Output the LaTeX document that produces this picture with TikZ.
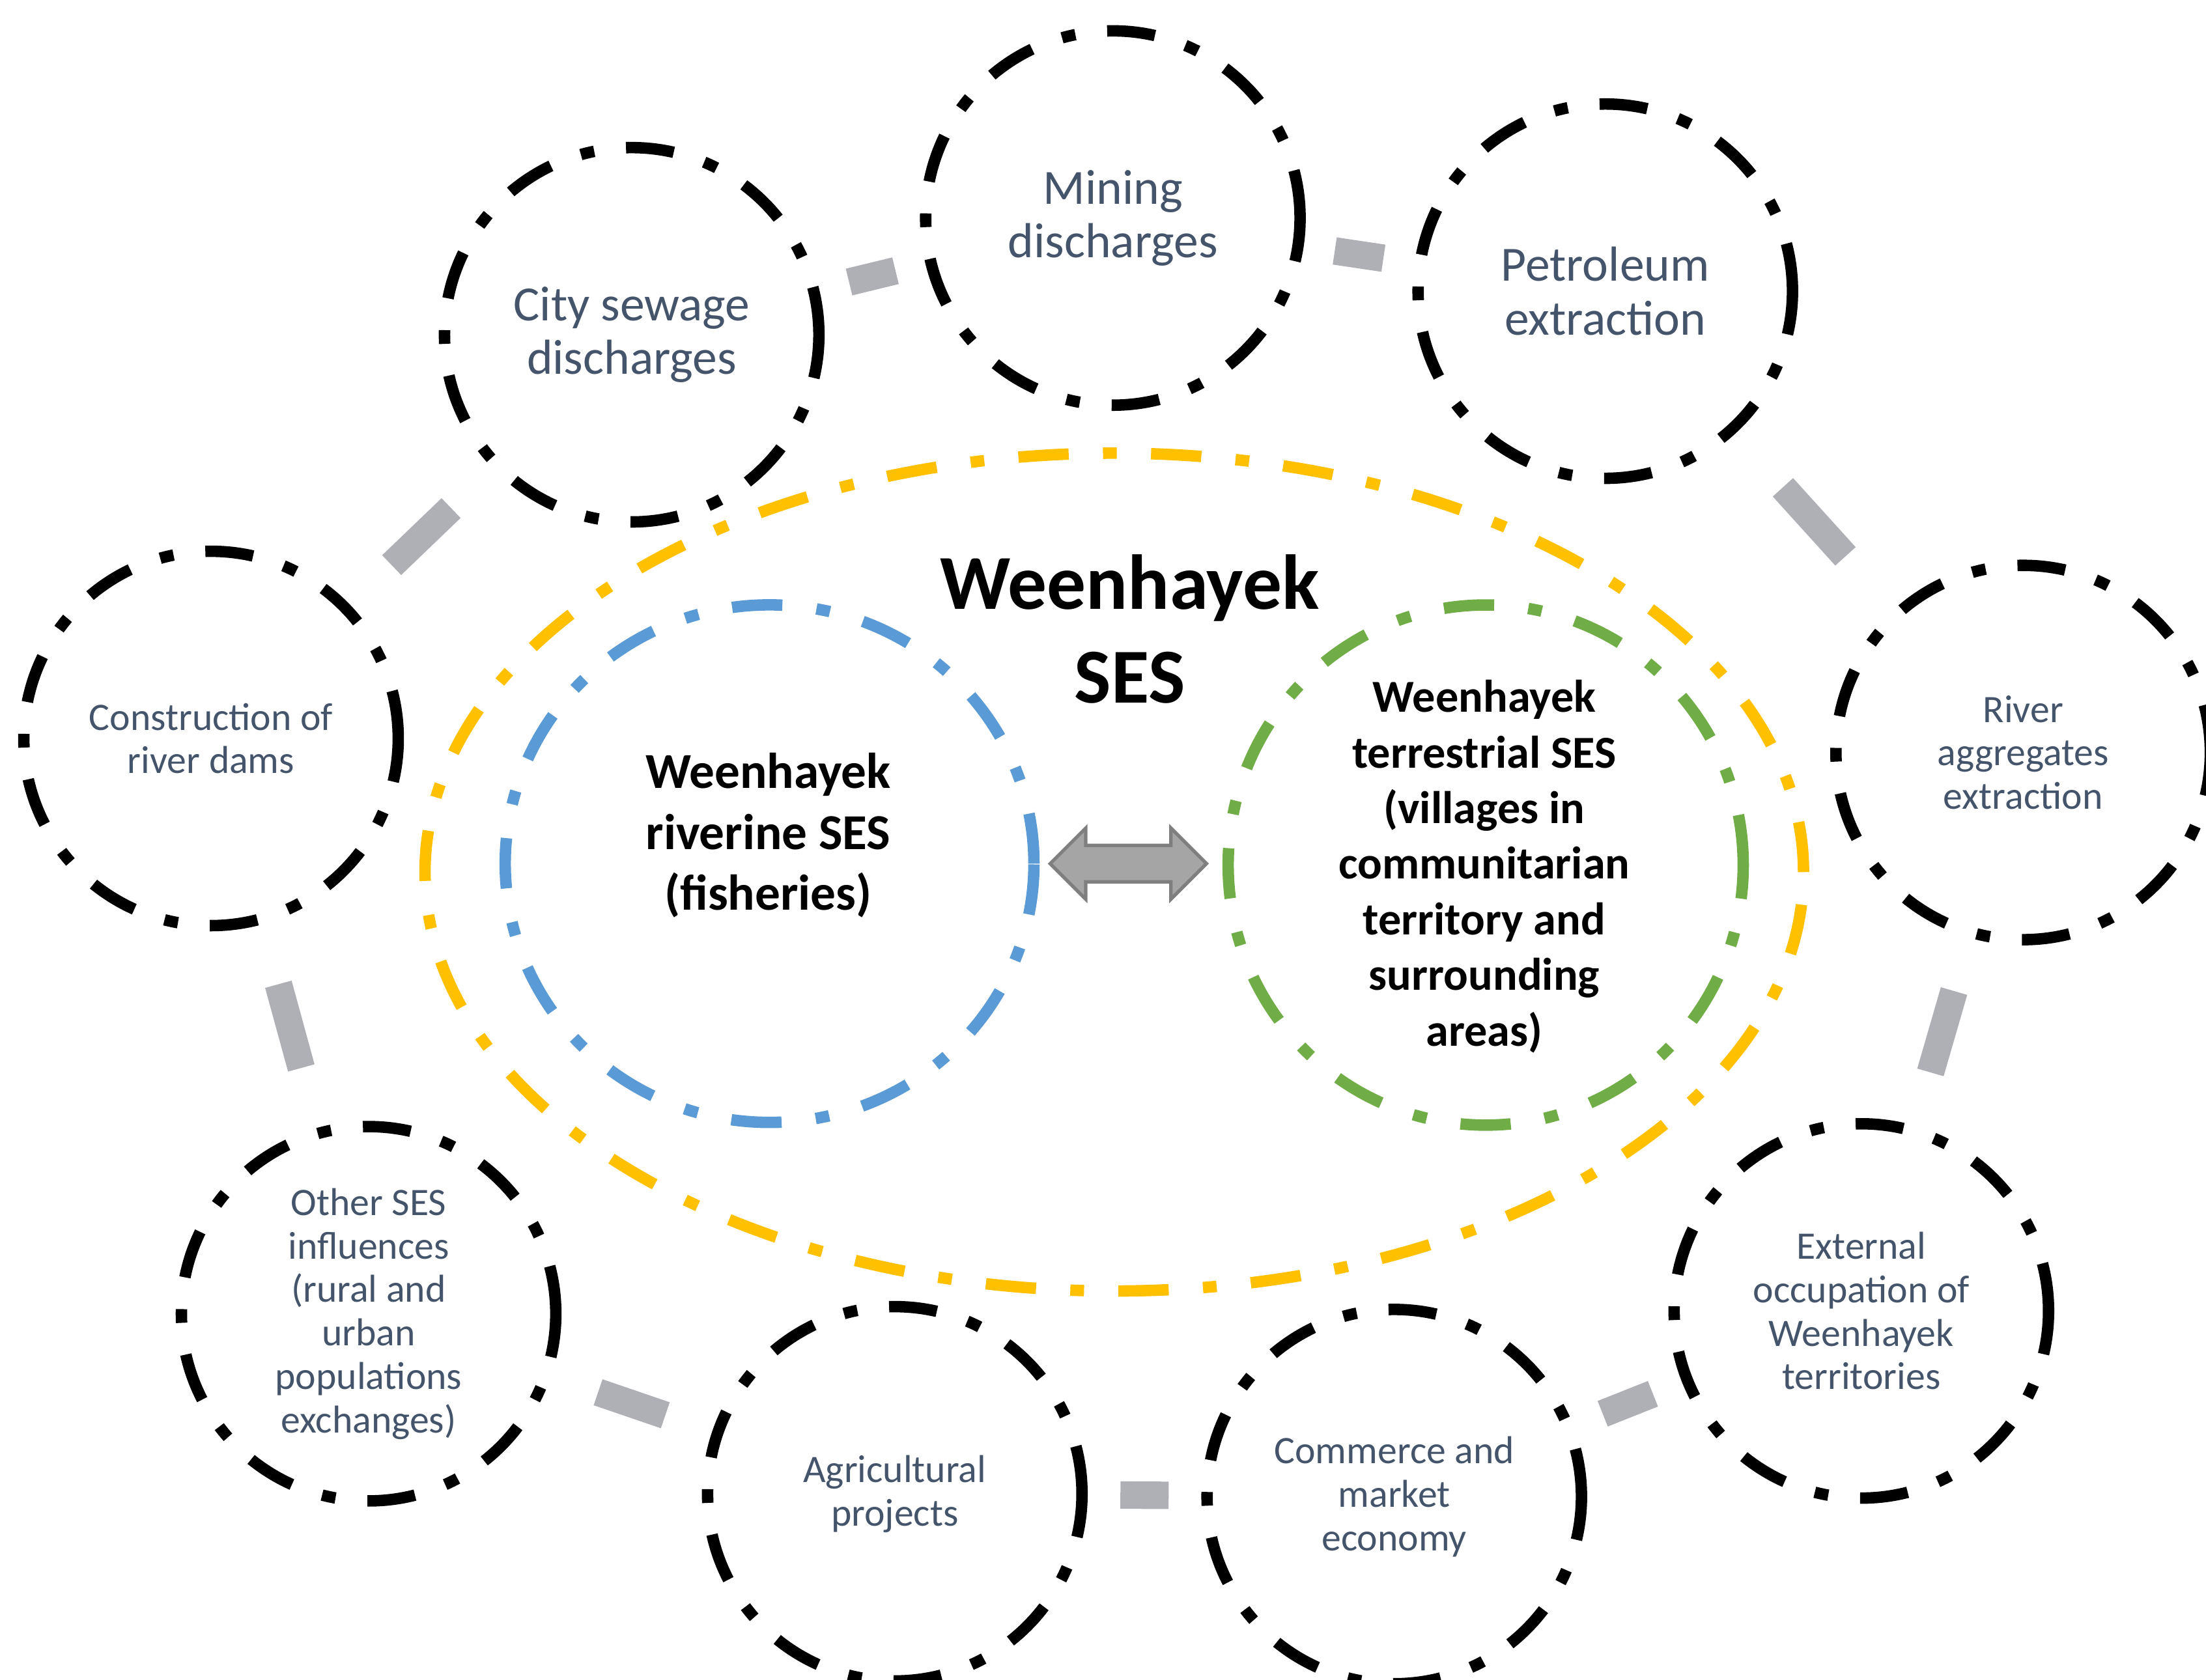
\documentclass[tikz,border=0pt]{standalone}
\usepackage{fontspec}
\setmainfont{Carlito}
\usetikzlibrary{shapes,arrows,positioning}

\definecolor{sesyellow}{HTML}{FFC000}
\definecolor{sesblue}{HTML}{5B9BD5}
\definecolor{sesgreen}{HTML}{70AD47}
\definecolor{labelgray}{HTML}{44546A}
\definecolor{bridgegray}{HTML}{AEB0B5}
\definecolor{arrowfill}{HTML}{A5A5A5}
\definecolor{arrowline}{HTML}{7F7F7F}

\begin{document}
\begin{tikzpicture}[
    x=0.0216cm, y=-0.0216cm,
    factor/.style={circle, draw=black, line width=5pt, dash pattern=on 21pt off 14pt on 6pt off 14pt, minimum size=5.75cm, inner sep=0pt, outer sep=0pt, align=center, text=labelgray, font=\fontsize{17}{19}\selectfont},
    bigfactor/.style={factor, font=\fontsize{21.5}{23.5}\selectfont},
    ses/.style={ellipse, line width=5pt, dash pattern=on 22pt off 15pt on 6pt off 15pt, inner sep=0pt, outer sep=0pt},
    bridge/.style={draw=bridgegray, line width=12pt, shorten >=#1, shorten <=#1},
    sestext/.style 2 args={align=center, font=\bfseries\fontsize{#1}{#2}\selectfont}
]
\useasboundingbox (0,0) rectangle (1568,1194);

% Outer ring of pressures
\node[bigfactor] (sewage) at (449,238) {City sewage\\discharges};
\node[bigfactor] (mining) at (791,155) {Mining\\discharges};
\node[bigfactor] (petrol) at (1141,207) {Petroleum\\extraction};
\node[factor] (dams) at (150,525) {Construction of\\river dams};
\node[factor] (aggr) at (1438,535) {River\\aggregates\\extraction};
\node[factor] (other) at (262,934) {Other SES\\influences\\(rural and\\urban\\populations\\exchanges)};
\node[factor] (agri) at (636,1062) {Agricultural\\projects};
\node[factor] (market) at (991,1064) {Commerce and\\market\\economy};
\node[factor] (occup) at (1323,932) {External\\occupation of\\Weenhayek\\territories};

% Weenhayek SES
\node[ses, draw=sesyellow, minimum width=21.17cm, minimum height=12.87cm] (ses) at (792,620) {};
\node[ses, draw=sesblue, minimum width=8.12cm, minimum height=7.95cm] (river) at (547,614) {};
\node[ses, draw=sesgreen, minimum width=7.91cm, minimum height=7.99cm] (land) at (1056,615) {};

\node[sestext={34}{41}] (sestitle) at (803,447) {Weenhayek\\SES};
\node[sestext={22}{26.6}] (rivertext) at (546,594) {Weenhayek\\riverine SES\\(fisheries)};
\node[sestext={20}{24.3}] (landtext) at (1055,616) {Weenhayek\\terrestrial SES\\(villages in\\communitarian\\territory and\\surrounding\\areas)};

\node[double arrow, draw=arrowline, fill=arrowfill, line width=1.5pt, minimum height=2.4cm, inner sep=0.254cm, double arrow head extend=0.265cm] (exchange) at (802,614) {};

% links between pressures
\draw[bridge=0.56cm] (sewage) -- (mining);
\draw[bridge=0.57cm] (mining) -- (petrol);
\draw[bridge=0.97cm] (sewage) -- (dams);
\draw[bridge=1.19cm] (petrol) -- (aggr);
\draw[bridge=1.04cm] (dams) -- (other);
\draw[bridge=0.94cm] (aggr) -- (occup);
\draw[bridge=0.85cm] (other) -- (agri);
\draw[bridge=0.59cm] (agri) -- (market);
\draw[bridge=0.57cm] (market) -- (occup);

\end{tikzpicture}
\end{document}
